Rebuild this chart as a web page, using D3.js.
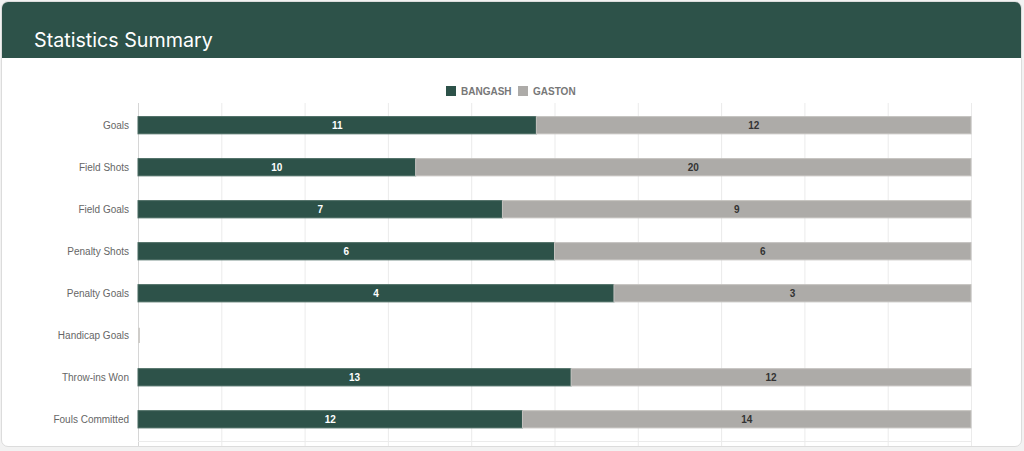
<!DOCTYPE html>
<html>
<head>
<meta charset="utf-8">
<script src="https://cdn.jsdelivr.net/npm/d3@7"></script>
<style>
  html, body { margin: 0; padding: 0; background: #f2f2f2; }
  #card {
    position: absolute; left: 1px; top: 1px; width: 1021px; height: 446px;
    background: #fff; border: 1px solid #dcdcdc; border-radius: 7px; overflow: hidden;
    box-sizing: border-box;
  }
  svg { position: absolute; left: 0; top: 0; }
</style>
</head>
<body>
<div id="card"></div>
<script>
const categories = ["Goals", "Field Shots", "Field Goals", "Penalty Shots",
    "Penalty Goals", "Handicap Goals", "Throw-ins Won", "Fouls Committed"];
const bangash = [11, 10, 7, 6, 4, 0, 13, 12];
const gaston = [12, 20, 9, 6, 3, 0, 12, 14];
const seriesNames = ["BANGASH", "GASTON"];
const seriesColors = ["#2d5249", "#adaba8"];
const seriesBorders = ["#4a6b62", "#c4c2bf"];
const labelColors = ["#ffffff", "#333333"];

const width = 1019, height = 444;
const svg = d3.select("#card").append("svg")
    .attr("width", width)
    .attr("height", height);

// header band
svg.append("rect")
    .attr("x", 0).attr("y", 0)
    .attr("width", width).attr("height", 56)
    .attr("fill", "#2d5249");
svg.append("text")
    .attr("x", 32).attr("y", 45)
    .attr("fill", "#fff")
    .style("font-family", "Inter, 'Noto Sans', sans-serif")
    .style("font-size", "19.7px")
    .text("Statistics Summary");

const plotTop = 102, plotBottom = 438.5;
const x = d3.scaleLinear().domain([0, 100]).range([136, 969]);
const y = d3.scaleBand().domain(categories)
    .range([plotTop, plotBottom]).paddingInner(0.59).paddingOuter(0.3);

// grid
svg.append("g")
    .selectAll("line")
    .data(x.ticks(10))
    .join("line")
    .attr("x1", (d) => x(d) + 0.5).attr("x2", (d) => x(d) + 0.5)
    .attr("y1", plotTop - 1).attr("y2", plotBottom + 6)
    .attr("stroke", (d) => d === 0 ? "#d6d6d6" : "#ebebeb");
svg.append("line")
    .attr("x1", x(0)).attr("x2", x(100))
    .attr("y1", 439.5).attr("y2", 439.5)
    .attr("stroke", "#ebebeb");

// y labels
svg.append("g")
    .selectAll("text")
    .data(categories)
    .join("text")
    .attr("x", 127)
    .attr("y", (d) => y(d) + y.bandwidth() / 2)
    .attr("dy", "0.35em")
    .attr("text-anchor", "end")
    .attr("fill", "#666")
    .style("font-family", "'Liberation Sans', Arial, sans-serif")
    .style("font-size", "10px")
    .text((d) => d);

// stacked percentages
const rows = categories.map((c, i) => {
    const total = bangash[i] + gaston[i];
    const p0 = total ? bangash[i] / total * 100 : 0;
    const p1 = total ? gaston[i] / total * 100 : 0;
    return { cat: c, segs: [
        { s: 0, v: bangash[i], x0: 0, x1: p0 },
        { s: 1, v: gaston[i], x0: p0, x1: p0 + p1 }
    ] };
});

const rowG = svg.append("g")
    .selectAll("g")
    .data(rows)
    .join("g")
    .attr("transform", (d) => `translate(0,${y(d.cat)})`);

rowG.selectAll("rect")
    .data((d) => d.segs)
    .join("rect")
    .attr("x", (d) => x(d.x0))
    .attr("width", (d) => x(d.x1) - x(d.x0))
    .attr("y", 0)
    .attr("height", y.bandwidth())
    .attr("fill", (d) => seriesColors[d.s])
    .attr("stroke", (d) => seriesBorders[d.s])
    .attr("stroke-width", 1);

// zero-width segments still show their border
rowG.selectAll("line.zero")
    .data((d) => d.segs.filter((s) => s.x1 === s.x0 && s.s === 1))
    .join("line")
    .attr("class", "zero")
    .attr("x1", (d) => x(d.x0) + 1).attr("x2", (d) => x(d.x0) + 1)
    .attr("y1", 1).attr("y2", y.bandwidth() - 1)
    .attr("stroke", "#cfcdca")
    .attr("stroke-width", 2);

rowG.selectAll("text")
    .data((d) => d.segs.filter((s) => s.v > 0))
    .join("text")
    .attr("x", (d) => (x(d.x0) + x(d.x1)) / 2)
    .attr("y", y.bandwidth() / 2)
    .attr("dy", "0.35em")
    .attr("text-anchor", "middle")
    .attr("fill", (d) => labelColors[d.s])
    .style("font-family", "'Liberation Sans', Arial, sans-serif")
    .style("font-size", "10px")
    .style("font-weight", "bold")
    .text((d) => d.v);

// legend
const legend = svg.append("g").attr("transform", "translate(444,84)");
const legendX = [0, 72];
seriesNames.forEach((n, i) => {
    legend.append("rect")
        .attr("x", legendX[i]).attr("y", 0)
        .attr("width", 10).attr("height", 10)
        .attr("fill", seriesColors[i]);
    legend.append("text")
        .attr("x", legendX[i] + 15).attr("y", 5)
        .attr("dy", "0.35em")
        .attr("fill", "#777")
        .style("font-family", "'Liberation Sans', Arial, sans-serif")
        .style("font-size", "10px")
        .style("font-weight", "bold")
        .text(n);
});
</script>
</body>
</html>
